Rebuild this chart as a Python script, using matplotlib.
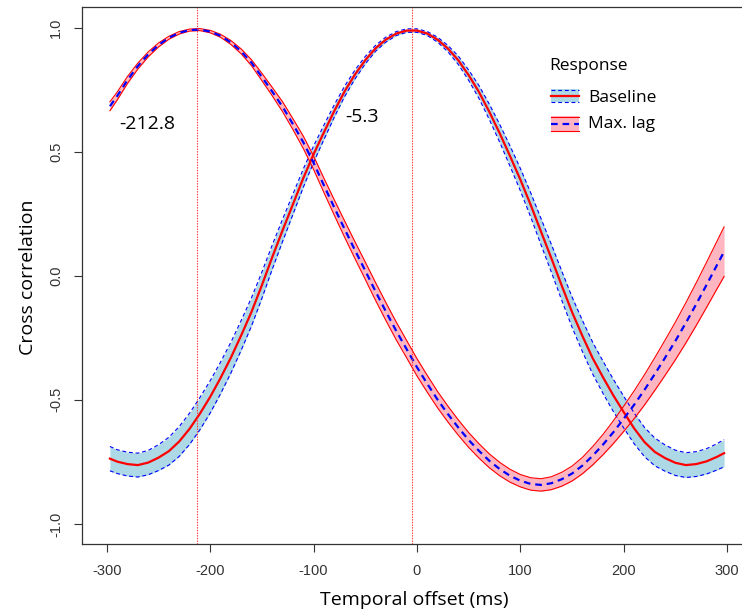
import numpy as np
import matplotlib.pyplot as plt
from matplotlib.patches import Rectangle
from matplotlib.lines import Line2D

# temporal offset (ms) at which the curves were read
offset = [-297] + list(range(-290, 300, 10)) + [297]

# Baseline: mean cross correlation and band half width
base_mean = [-0.737, -0.749, -0.759, -0.763, -0.753, -0.733, -0.707, -0.668, -0.617,
             -0.556, -0.488, -0.412, -0.330, -0.240, -0.145, -0.038, 0.075, 0.183,
             0.288, 0.393, 0.490, 0.578, 0.664, 0.743, 0.811, 0.869, 0.917, 0.952,
             0.976, 0.988, 0.988, 0.976, 0.951, 0.915, 0.868, 0.808, 0.740, 0.660,
             0.574, 0.482, 0.387, 0.285, 0.177, 0.070, -0.040, -0.147, -0.243,
             -0.333, -0.410, -0.483, -0.550, -0.615, -0.670, -0.710, -0.735, -0.754,
             -0.763, -0.759, -0.748, -0.730, -0.715]
base_half = [0.049, 0.048, 0.048, 0.048, 0.049, 0.052, 0.056, 0.060, 0.063, 0.065,
             0.065, 0.064, 0.062, 0.060, 0.057, 0.053, 0.049, 0.045, 0.041, 0.037,
             0.033, 0.029, 0.025, 0.021, 0.018, 0.015, 0.012, 0.010, 0.008, 0.007,
             0.007, 0.008, 0.010, 0.013, 0.017, 0.021, 0.026, 0.031, 0.036, 0.041,
             0.045, 0.049, 0.053, 0.056, 0.059, 0.061, 0.063, 0.064, 0.065, 0.065,
             0.064, 0.062, 0.059, 0.056, 0.053, 0.051, 0.050, 0.050, 0.051, 0.053,
             0.055]

# Max. lag: mean cross correlation and band half width
lag_mean = [0.683, 0.724, 0.789, 0.845, 0.892, 0.930, 0.959, 0.979, 0.990, 0.992,
            0.984, 0.967, 0.940, 0.904, 0.858, 0.801, 0.742, 0.681, 0.611, 0.538,
            0.455, 0.364, 0.275, 0.188, 0.103, 0.020, -0.064, -0.145, -0.223, -0.296,
            -0.369, -0.436, -0.500, -0.558, -0.612, -0.662, -0.706, -0.746, -0.779,
            -0.806, -0.826, -0.839, -0.843, -0.836, -0.820, -0.797, -0.765, -0.725,
            -0.680, -0.630, -0.576, -0.520, -0.460, -0.396, -0.330, -0.262, -0.190,
            -0.115, -0.037, 0.042, 0.097]
lag_half = [0.018, 0.016, 0.014, 0.012, 0.010, 0.008, 0.006, 0.005, 0.004, 0.004,
            0.005, 0.006, 0.008, 0.010, 0.012, 0.015, 0.017, 0.020, 0.022, 0.025,
            0.027, 0.029, 0.031, 0.033, 0.034, 0.035, 0.036, 0.036, 0.036, 0.035,
            0.035, 0.034, 0.033, 0.032, 0.031, 0.030, 0.029, 0.028, 0.027, 0.026,
            0.025, 0.025, 0.025, 0.026, 0.028, 0.030, 0.033, 0.037, 0.041, 0.046,
            0.051, 0.056, 0.061, 0.066, 0.071, 0.076, 0.081, 0.086, 0.091, 0.096,
            0.100]

peaks = [-212.8, -5.3]
peak_labels = ['-212.8', '-5.3']
xticks = [-300, -200, -100, 0, 100, 200, 300]
yticks = [-1.0, -0.5, 0.0, 0.5, 1.0]

t = np.array(offset)
bm, bh = np.array(base_mean), np.array(base_half)
lm, lh = np.array(lag_mean), np.array(lag_half)

W, H = 742, 614
fig = plt.figure(figsize=(W / 100, H / 100), dpi=100)
ax = fig.add_axes([82 / W, 70 / H, 670 / W, 537 / H])

txt_font = ['Open Sans', 'DejaVu Sans']

# Baseline band
ax.fill_between(t, bm - bh, bm + bh, color='lightblue', lw=0)
ax.plot(t, bm + bh, color='blue', lw=0.8, ls=(0, (3.5, 2.5)))
ax.plot(t, bm - bh, color='blue', lw=0.8, ls=(0, (3.5, 2.5)))
ax.plot(t, bm, color='red', lw=1.6)

# Max. lag band
ax.fill_between(t, lm - lh, lm + lh, color='lightpink', lw=0)
ax.plot(t, lm + lh, color='red', lw=0.8)
ax.plot(t, lm - lh, color='red', lw=0.8)
ax.plot(t, lm, color='blue', lw=1.6, ls=(0, (3, 2.2)))

for p in peaks:
    ax.axvline(p, color='#ff3030', lw=0.8, ls=(0, (1.2, 1.2)))

ax.text(-261, 0.613, peak_labels[0], ha='center', va='center', fontsize=14, family=txt_font)
ax.text(-53, 0.64, peak_labels[1], ha='center', va='center', fontsize=14, family=txt_font)

ax.set_xlim(-324, 324)
ax.set_ylim(-1.081, 1.083)
ax.set_xticks(xticks)
ax.set_xticklabels([str(v) for v in xticks])
ax.set_yticks(yticks)
ax.set_yticklabels(['%.1f' % v for v in yticks])
ax.tick_params(length=5.5, width=0.8, color='#333333', labelcolor='#333333',
               labelsize=10.5, pad=9)
ax.tick_params(axis='y', labelrotation=90, pad=8)
for lab in ax.get_xticklabels() + ax.get_yticklabels():
    lab.set_family('Liberation Sans')
for lab in ax.get_yticklabels():
    lab.set_va('center')
for s in ax.spines.values():
    s.set_color('#333333')
    s.set_linewidth(0.9)

# axis titles
fig.text(414 / W, 1 - 600 / H, 'Temporal offset (ms)', ha='center', va='center',
         fontsize=14, family=txt_font)
fig.text(28 / W, 1 - 277 / H, 'Cross correlation', ha='center', va='center',
         rotation=90, fontsize=14, family=txt_font)

# legend drawn in figure pixels
def fx(x):
    return x / W

def fy(y):
    return 1 - y / H

fig.text(fx(549), fy(66), 'Response', ha='left', va='center', fontsize=12.5, family=txt_font)
x0, x1 = 551, 579
# Baseline key
fig.patches.append(Rectangle((fx(x0), fy(102)), fx(x1) - fx(x0), fy(89) - fy(102),
                             transform=fig.transFigure, color='lightblue', lw=0))
for y, c, ls in [(89.5, 'blue', (0, (3.5, 2.5))), (101.5, 'blue', (0, (3.5, 2.5))),
                 (95.5, 'red', '-')]:
    fig.lines.append(Line2D([fx(x0), fx(x1)], [fy(y), fy(y)], transform=fig.transFigure,
                            color=c, lw=1.6 if c == 'red' else 0.8, ls=ls))
fig.text(fx(588), fy(98), 'Baseline', ha='left', va='center', fontsize=12.5, family=txt_font)
# Max. lag key
fig.patches.append(Rectangle((fx(x0), fy(131)), fx(x1) - fx(x0), fy(116) - fy(131),
                             transform=fig.transFigure, color='lightpink', lw=0))
for y, c, ls in [(116.5, 'red', '-'), (130.5, 'red', '-'), (123.5, 'blue', (0, (3, 2.2)))]:
    fig.lines.append(Line2D([fx(x0), fx(x1)], [fy(y), fy(y)], transform=fig.transFigure,
                            color=c, lw=1.6 if c == 'blue' else 0.8, ls=ls))
fig.text(fx(588), fy(124), 'Max. lag', ha='left', va='center', fontsize=12.5, family=txt_font)

fig.savefig('out.png', dpi=100)
